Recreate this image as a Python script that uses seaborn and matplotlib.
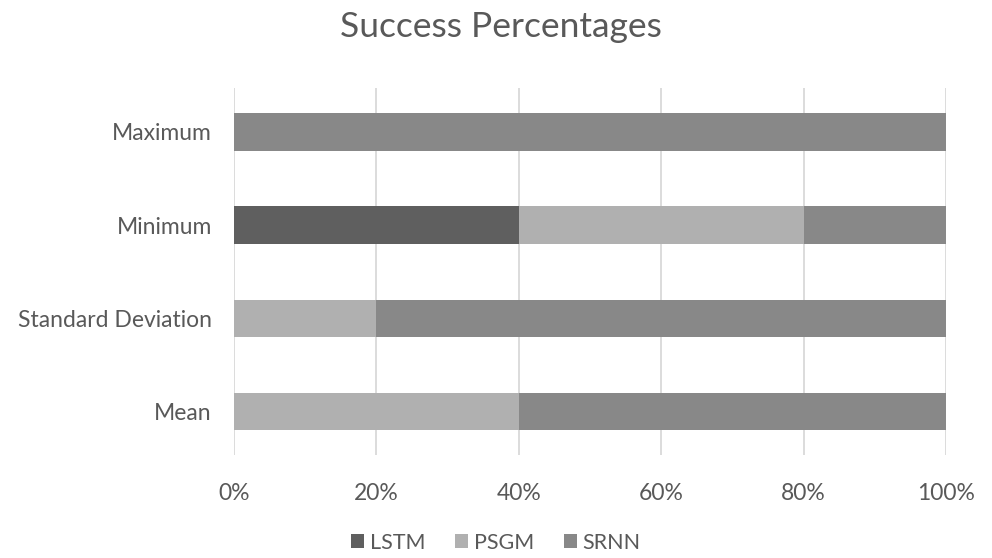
import matplotlib
matplotlib.use("Agg")
import matplotlib.pyplot as plt
from matplotlib.patches import Patch
from matplotlib.ticker import FuncFormatter
import numpy as np
import pandas as pd
import seaborn as sns

# Success shares (%) per statistic, stacked to 100%
categories = ["Maximum", "Minimum", "Standard Deviation", "Mean"]
lstm = [0, 40, 0, 0]
psgm = [0, 40, 20, 40]
srnn = [100, 20, 80, 60]
series_names = ["LSTM", "PSGM", "SRNN"]
series_colors = ["#5f5f5f", "#b0b0b0", "#888888"]
x_ticks = [0, 20, 40, 60, 80, 100]

sns.set_theme(style="white")
plt.rcParams["font.family"] = ["Lato", "DejaVu Sans"]
text_color = "#595959"

df = pd.DataFrame({"category": categories, "LSTM": lstm, "PSGM": psgm, "SRNN": srnn})
# cumulative right edges, so each stacked segment is drawn over the longer one behind it
df["cum_LSTM"] = df["LSTM"]
df["cum_PSGM"] = df["LSTM"] + df["PSGM"]
df["cum_SRNN"] = df["LSTM"] + df["PSGM"] + df["SRNN"]

fig = plt.figure(figsize=(9.92, 5.58), dpi=100)
ax = fig.add_axes([0.2359, 0.1846, 0.7177, 0.6574])

for name, color in reversed(list(zip(series_names, series_colors))):
    sns.barplot(data=df, x="cum_" + name, y="category", order=categories,
                color=color, orient="h", width=0.4, ax=ax, saturation=1,
                linewidth=0, zorder=3)

ax.set_xlim(0, 100)
ax.set_ylim(3.47, -0.47)
ax.set_xticks(x_ticks)
ax.xaxis.set_major_formatter(FuncFormatter(lambda v, p: f"{v:.0f}%"))
ax.grid(axis="x", color="#d9d9d9", linewidth=1.3, zorder=0)
ax.grid(axis="y", visible=False)
for s in ax.spines.values():
    s.set_visible(False)
ax.set_xlabel("")
ax.set_ylabel("")
ax.tick_params(axis="x", colors=text_color, labelsize=16.5, length=0, pad=20)
ax.tick_params(axis="y", colors=text_color, labelsize=16.5, length=0, pad=16)

fig.suptitle("Success Percentages", x=0.505, y=0.98, fontsize=25.5, color=text_color)

handles = [Patch(facecolor=c, edgecolor="none") for c in series_colors]
fig.legend(handles, series_names, loc="lower center", bbox_to_anchor=(0.500, -0.025),
           ncol=3, frameon=False, fontsize=15.5, labelcolor=text_color,
           handlelength=0.6, handleheight=0.6, handletextpad=0.25, columnspacing=1.4)

fig.savefig("out.png", dpi=100, facecolor="white")
